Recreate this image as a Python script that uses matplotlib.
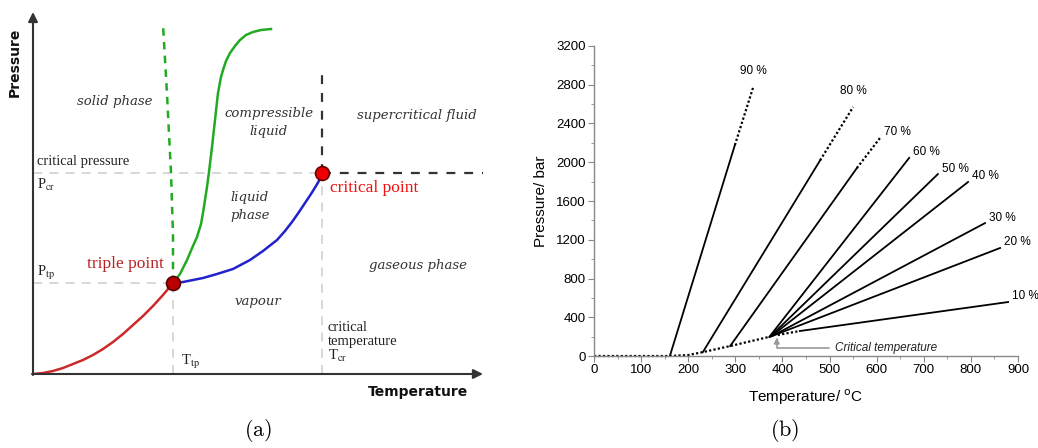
import matplotlib
matplotlib.use("Agg")
import matplotlib.pyplot as plt

# --- panel (a): schematic phase diagram (arbitrary units) ---
sub_T = [0, 10, 20, 30, 40, 50, 60, 70, 80, 90, 100, 110, 120, 130, 140]   # sublimation (red)
sub_P = [0, 1, 3, 6, 10, 14, 19, 25, 32, 40, 49, 58, 68, 79, 91]
vap_T = [140, 150, 160, 170, 184, 200, 217, 230, 244, 252, 259, 266, 272, 278, 283, 287, 289]
vap_P = [91, 92, 94, 96, 100, 105, 114, 123, 134, 143, 152, 162, 171, 180, 188, 195, 201]
melt_T = [140, 147, 154, 160, 164, 168, 170, 172, 174, 176, 179, 182, 185, 188, 190,
          193, 197, 202, 207, 213, 220, 228, 238]                             # green solid
melt_P = [91, 100, 114, 128, 137, 150, 161, 174, 187, 202, 227, 254, 281, 297, 304,
          313, 321, 328, 334, 339, 342, 344, 345]
anom_T = [140, 140, 139, 138, 136, 134, 132, 130]                             # green dashed
anom_P = [91, 140, 170, 202, 240, 280, 315, 349]
triple = (140, 91)
critical = (289, 201)
T_max, P_max = 450, 362

# --- panel (b): isochores, pressure vs temperature ---
base_T = [0, 160, 200, 231, 289, 374]
base_P = [0, 0, 10, 40, 103, 200]
iso_labels = ['90 %', '80 %', '70 %', '60 %', '50 %', '40 %', '30 %', '20 %', '10 %']
iso_T0 = [161, 231, 289, 372, 374, 376, 378, 380, 437]
iso_P0 = [0, 40, 103, 196, 200, 203, 206, 210, 258]
iso_T1 = [299, 480, 558, 669, 730, 794, 830, 862, 879]
iso_P1 = [2177, 2020, 1940, 2045, 1878, 1796, 1372, 1115, 557]
iso_T2 = [338, 550, 607, None, None, None, None, None, None]
iso_P2 = [2776, 2570, 2250, None, None, None, None, None, None]
ten_dot_T = [390, 437]   # dotted start of the 10 % line
ten_dot_P = [217, 258]
crit_T = 388
crit_P = 190

fig = plt.figure(figsize=(10.38, 4.48), dpi=100)

# ================= panel (a) =================
axa = fig.add_axes([33 / 1038, 74 / 448, 450 / 1038, 362 / 448])
axa.set_xlim(0, T_max)
axa.set_ylim(0, P_max)
axa.axis('off')

grey = '#d4d4d4'
axa.plot([0, critical[0]], [critical[1]] * 2, color=grey, lw=1.3, dashes=(5, 4))
axa.plot([0, triple[0]], [triple[1]] * 2, color=grey, lw=1.3, dashes=(5, 4))
axa.plot([triple[0]] * 2, [0, triple[1]], color=grey, lw=1.3, dashes=(5, 4))
axa.plot([critical[0]] * 2, [0, critical[1]], color=grey, lw=1.3, dashes=(5, 4))
axa.plot([critical[0]] * 2, [critical[1], 304], color='#333333', lw=1.6, dashes=(4, 4))
axa.plot([critical[0], T_max], [critical[1]] * 2, color='#333333', lw=1.6, dashes=(4, 4))

axa.plot(sub_T, sub_P, color='#cc2a2a', lw=1.8, solid_joinstyle='round')
axa.plot(vap_T, vap_P, color='#2222cc', lw=1.8, solid_joinstyle='round')
axa.plot(melt_T, melt_P, color='#22aa22', lw=1.8, solid_joinstyle='round')
axa.plot(anom_T, anom_P, color='#22aa22', lw=1.8, dashes=(3, 2.5))

axa.plot(*triple, 'o', ms=10, color='#bb0000', mec='#550000', mew=1.2, zorder=5)
axa.plot(*critical, 'o', ms=10, color='#ee0000', mec='#660000', mew=1.2, zorder=5)

axa.annotate('', xy=(T_max, 0), xytext=(-1, 0),
             arrowprops=dict(arrowstyle='-|>', color='#333333', lw=1.5, mutation_scale=14,
                             shrinkA=0, shrinkB=0), annotation_clip=False)
axa.annotate('', xy=(0, P_max), xytext=(0, -1),
             arrowprops=dict(arrowstyle='-|>', color='#333333', lw=1.5, mutation_scale=14,
                             shrinkA=0, shrinkB=0), annotation_clip=False)

axa.text(-18, 312, 'Pressure', rotation=90, ha='center', va='center',
         fontsize=10, fontweight='bold', family='DejaVu Sans', color='#111111', clip_on=False)
axa.text(385, -18, 'Temperature', ha='center', va='center',
         fontsize=10, fontweight='bold', family='DejaVu Sans', color='#111111', clip_on=False)

it = dict(family='DejaVu Serif', style='italic', fontsize=9.5, color='#333333',
          ha='center', va='center', linespacing=1.5)
axa.text(82, 273, 'solid phase', **it)
axa.text(236, 252, 'compressible\nliquid', **it)
axa.text(384, 258, 'supercritical fluid', **it)
axa.text(217, 167, 'liquid\nphase', **it)
axa.text(385, 109, 'gaseous phase', **it)
axa.text(225, 72, 'vapour', **it)

rm = dict(family='Liberation Serif', fontsize=10.5, color='#222222', math_fontfamily='stix')
axa.text(4, 212, 'critical pressure', ha='left', va='center', **rm)
axa.text(4, 189, r'P$_{\mathrm{cr}}$', ha='left', va='center', **rm)
axa.text(4, 101, r'P$_{\mathrm{tp}}$', ha='left', va='center', **rm)
axa.text(148, 12, r'T$_{\mathrm{tp}}$', ha='left', va='center', **rm)
axa.text(295, 53, 'critical\ntemperature\n' + r'T$_{\mathrm{cr}}$', ha='left', va='top',
         linespacing=1.05, **rm)

axa.text(297, 186, 'critical point', ha='left', va='center', family='Liberation Serif',
         fontsize=12.5, color='#ee1111')
axa.text(92, 110, 'triple point', ha='center', va='center', family='Liberation Serif',
         fontsize=12.5, color='#bb2222')

fig.text(258 / 1038, 1 - 430 / 448, r'$\mathrm{(a)}$', ha='center', va='center',
         fontsize=16, math_fontfamily='cm')

# ================= panel (b) =================
axb = fig.add_axes([594 / 1038, 92 / 448, 424 / 1038, 310 / 448])
axb.set_xlim(0, 900)
axb.set_ylim(0, 3200)
for s in ['top', 'right']:
    axb.spines[s].set_visible(False)
for s in ['left', 'bottom']:
    axb.spines[s].set_color('#888888')
    axb.spines[s].set_linewidth(1.0)
axb.set_xticks(range(0, 901, 100))
axb.set_yticks(range(0, 3201, 400))
axb.set_xticks(range(50, 900, 100), minor=True)
axb.set_yticks(range(200, 3200, 400), minor=True)
axb.tick_params(which='major', direction='out', length=4, color='#888888',
                labelsize=9.5, pad=2)
axb.tick_params(which='minor', direction='out', length=2.5, color='#888888')
for lab in axb.get_xticklabels() + axb.get_yticklabels():
    lab.set_family('Liberation Sans')

dot = (0, (1, 1))
axb.plot(base_T, base_P, color='black', lw=1.6, ls=dot, clip_on=False)
axb.plot(ten_dot_T, ten_dot_P, color='black', lw=1.6, ls=dot)

for i, lab in enumerate(iso_labels):
    axb.plot([iso_T0[i], iso_T1[i]], [iso_P0[i], iso_P1[i]], color='black', lw=1.3)
    end_T, end_P = iso_T1[i], iso_P1[i]
    if iso_T2[i] is not None:
        axb.plot([iso_T1[i], iso_T2[i]], [iso_P1[i], iso_P2[i]], color='black', lw=1.6, ls=dot)
        end_T, end_P = iso_T2[i], iso_P2[i]
    if i < 2:
        axb.annotate(lab, (end_T, end_P), xytext=(0, 7), textcoords='offset points',
                     ha='center', va='bottom', fontsize=8.5, family='Liberation Sans',
                     annotation_clip=False)
    else:
        axb.annotate(lab, (end_T, end_P), xytext=(3, 4), textcoords='offset points',
                     ha='left', va='center', fontsize=8.5, family='Liberation Sans',
                     annotation_clip=False)

axb.annotate('Critical temperature', xy=(crit_T, crit_P), xytext=(511, 83),
             ha='left', va='center', fontsize=8.5, style='italic', family='Liberation Sans',
             color='#222222',
             arrowprops=dict(arrowstyle='-|>', color='#999999', lw=1.2, mutation_scale=8,
                             connectionstyle='angle,angleA=0,angleB=90,rad=0',
                             shrinkA=2, shrinkB=0))

axb.set_ylabel('Pressure/ bar', fontsize=11, family='Liberation Sans', labelpad=6)
axb.set_xlabel(r'Temperature/ $^{\mathrm{o}}$C', fontsize=11, family='Liberation Sans',
               labelpad=8)

fig.text(785 / 1038, 1 - 430 / 448, r'$\mathrm{(b)}$', ha='center', va='center',
         fontsize=16, math_fontfamily='cm')

fig.savefig('out.png', dpi=100)
